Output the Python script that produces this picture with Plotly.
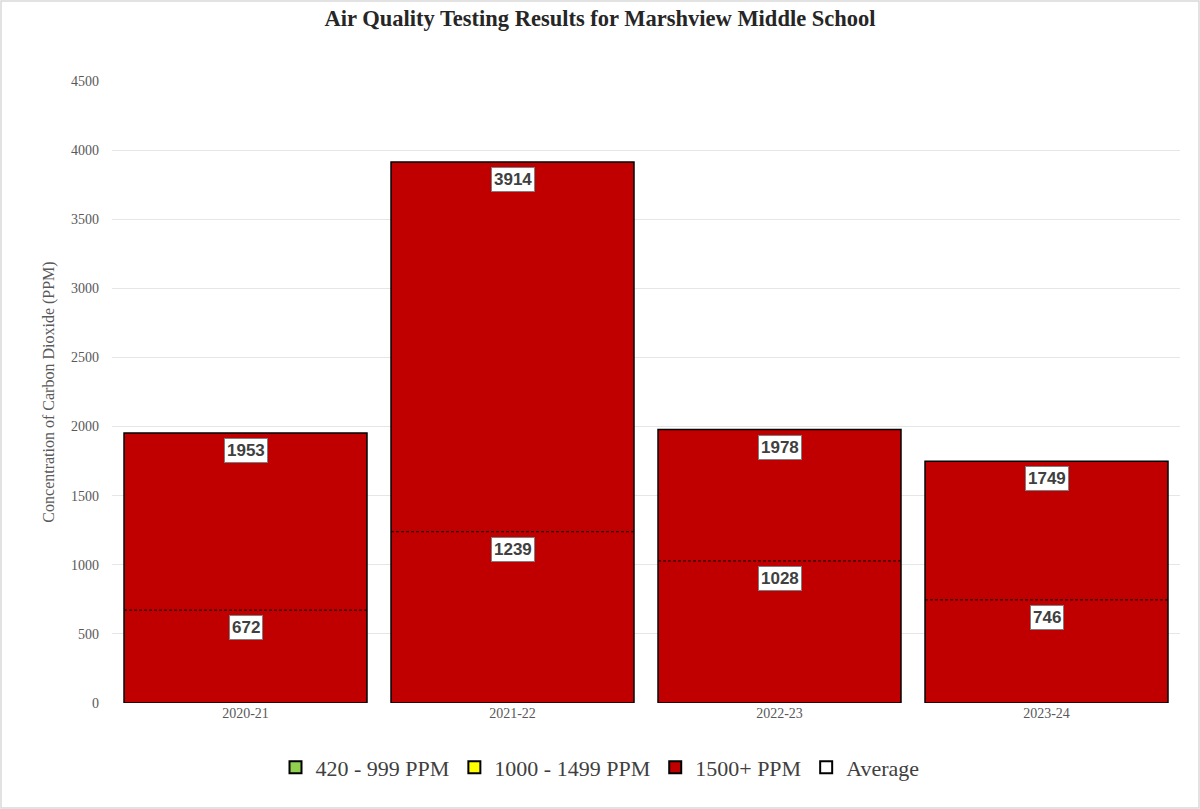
import plotly.graph_objects as go

years = ["2020-21", "2021-22", "2022-23", "2023-24"]
max_ppm = [1953, 3914, 1978, 1749]
avg_ppm = [672, 1239, 1028, 746]

serif = "Liberation Serif, Times New Roman, serif"
bar_w = 0.91
xpos = list(range(len(years)))

W, H = 1200, 809
ML, MR, MT, MB = 112, 20, 81, 106
pw, ph = W - ML - MR, H - MT - MB

fig = go.Figure()

# legend-only entries for the lower bands (no bars reach them)
fig.add_trace(go.Bar(x=[None], y=[None], name="420 - 999 PPM",
                     marker=dict(color="#92D050", line=dict(color="black", width=1.5))))
fig.add_trace(go.Bar(x=[None], y=[None], name="1000 - 1499 PPM",
                     marker=dict(color="#FFFF00", line=dict(color="black", width=1.5))))
fig.add_trace(go.Bar(x=xpos, y=max_ppm, name="1500+ PPM", width=bar_w,
                     marker=dict(color="#C00000", line=dict(color="black", width=1.5))))

# dashed average lines across each bar
ax, ay = [], []
for i, v in zip(xpos, avg_ppm):
    ax += [i - bar_w / 2, i + bar_w / 2, None]
    ay += [v, v, None]
fig.add_trace(go.Scatter(x=ax, y=ay, mode="lines", name="Average", showlegend=False,
                         line=dict(color="black", width=1, dash="3px,2px")))
fig.add_trace(go.Scatter(x=[None], y=[None], mode="markers", name="Average",
                         marker=dict(symbol="square-open", size=11, color="black",
                                     line=dict(width=1))))

label_style = dict(showarrow=False, yanchor="top", yshift=-5,
                   font=dict(family="Liberation Sans, Arial, sans-serif", size=17, color="#404040"),
                   bgcolor="white", bordercolor="#7f7f7f", borderwidth=1, borderpad=2)
for i, (m, a) in enumerate(zip(max_ppm, avg_ppm)):
    fig.add_annotation(x=i, y=m, text="<b>%d</b>" % m, **label_style)
    fig.add_annotation(x=i, y=a, text="<b>%d</b>" % a, **label_style)

# thin frame around the whole chart
fig.add_shape(type="rect", xref="paper", yref="paper",
              x0=-(ML - 1) / pw, x1=1 + (MR - 1) / pw,
              y0=-(MB - 1) / ph, y1=1 + (MT - 1) / ph,
              line=dict(color="#d9d9d9", width=1.5), layer="below")

fig.update_layout(
    width=W, height=H,
    title=dict(text="<b>Air Quality Testing Results for Marshview Middle School</b>",
               x=0.5, xanchor="center", y=0.987, yanchor="top",
               font=dict(family=serif, size=22.5, color="#262626")),
    paper_bgcolor="white", plot_bgcolor="white",
    margin=dict(l=ML, r=MR, t=MT, b=MB),
    barmode="overlay",
    showlegend=True,
    legend=dict(orientation="h", x=(600 - ML) / pw, xanchor="center", y=-0.07, yanchor="top",
                font=dict(family=serif, size=22, color="#404040"),
                itemsizing="constant", itemwidth=30),
    font=dict(family=serif, color="#595959"),
)
fig.update_xaxes(range=[-0.5, 3.5], tickvals=xpos, ticktext=years,
                 tickfont=dict(family=serif, size=14, color="#595959"),
                 showgrid=False, zeroline=False, showline=False)
fig.update_yaxes(range=[0, 4500], dtick=500,
                 tickfont=dict(family=serif, size=14, color="#595959"),
                 title=dict(text="Concentration of Carbon Dioxide (PPM)",
                            font=dict(family=serif, size=16, color="#595959"), standoff=12),
                 showgrid=True, gridcolor="#e6e6e6", zeroline=False, ticks="", ticklen=0,
                 ticklabelstandoff=12)

fig.write_html("out.html", config={"displayModeBar": False},
               post_script="document.body.style.margin='0';")
